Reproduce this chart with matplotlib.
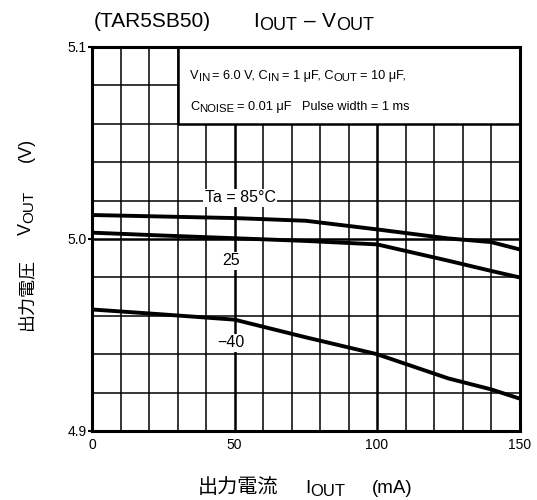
import matplotlib
matplotlib.use('Agg')
import matplotlib.pyplot as plt

plt.rcParams['font.family'] = ['Liberation Sans', 'Noto Sans CJK JP']

# 出力電流 (mA) と出力電圧 (V)
i_out = [0, 25, 50, 75, 100, 125, 140, 150]
v_85 = [5.0125, 5.0117, 5.0109, 5.0095, 5.0050, 5.0003, 4.9984, 4.9946]
v_25 = [5.0033, 5.0018, 5.0004, 4.9990, 4.9972, 4.9887, 4.9834, 4.9800]
v_m40 = [4.9633, 4.9607, 4.9580, 4.9488, 4.9400, 4.9274, 4.9217, 4.9169]

curve_labels = ['Ta = 85°C', '25', '\u221240']
label_pos = [(52, 5.0214), (48.8, 4.9887), (48.8, 4.9459)]

x_ticks = [0, 50, 100, 150]
y_ticks = [4.9, 5.0, 5.1]

W, H = 537, 500
fig = plt.figure(figsize=(W / 100, H / 100), dpi=100)
renderer = fig.canvas.get_renderer()


def rich(x, y, pieces, vertical=False):
    """Draw text pieces one after another. x, y are pixel positions of the
    baseline start. Each piece: (text, size, sub_offset_px, gap_before_px)."""
    pos = y if vertical else x
    for s, size, sub, gap in pieces:
        pos += gap
        if vertical:
            t = fig.text((x + sub) / W, pos / H, s, fontsize=size, rotation=90,
                         rotation_mode='anchor', ha='left', va='baseline')
            pos = t.get_window_extent(renderer).y1
        else:
            t = fig.text(pos / W, (y - sub) / H, s, fontsize=size,
                         ha='left', va='baseline')
            pos = t.get_window_extent(renderer).x1


ax = fig.add_axes([92 / W, 69 / H, 427.5 / W, 384 / H])
ax.set_xlim(0, 150)
ax.set_ylim(4.9, 5.1)

# grid
for gx in range(10, 150, 10):
    lw = 1.8 if gx % 50 == 0 else 1.1
    ax.axvline(gx, color='black', lw=lw, zorder=1)
for k in range(1, 10):
    gy = 4.9 + 0.02 * k
    lw = 1.8 if k == 5 else 1.1
    ax.axhline(gy, color='black', lw=lw, zorder=1)

for v in (v_85, v_25, v_m40):
    ax.plot(i_out, v, color='black', lw=2.8, zorder=3, solid_capstyle='butt')

for lab, (lx, ly) in zip(curve_labels, label_pos):
    ax.text(lx, ly, lab, ha='center', va='center', fontsize=11.5, zorder=4,
            bbox=dict(facecolor='white', edgecolor='none', pad=1.0))

# condition box
ax.fill_between([30, 150], 5.06, 5.1, facecolor='white', edgecolor='black',
                lw=1.8, zorder=5)

for s in ax.spines.values():
    s.set_linewidth(2.2)
    s.set_zorder(7)

ax.set_xticks(x_ticks)
ax.set_xticklabels([str(t) for t in x_ticks], fontsize=10)
ax.set_yticks(y_ticks)
ax.set_yticklabels(['4.9', '5.0', '5.1'], fontsize=10)
ax.tick_params(axis='x', length=0, pad=5)
ax.tick_params(axis='y', length=3, width=1.5, pad=1)

# condition text
cs, ss = 9.2, 8.2
rich(190, 500 - 79, [('V', cs, 0, 0), ('IN', ss, 2, 0), ('= 6.0 V, C', cs, 0, 2.5),
                     ('IN', ss, 2, 0), ('= 1 μF, C', cs, 0, 2.5), ('OUT', ss, 2, 0),
                     ('= 10 μF,', cs, 0, 2.5)])
rich(190, 500 - 110, [('C', cs, 0, 0), ('NOISE', ss, 2, 0), ('= 0.01 μF', cs, 0, 2.5),
                      ('Pulse width = 1 ms', cs, 0, 11)])

# title
ts, tss = 15, 13
rich(94, 500 - 27, [('(TAR5SB50)', ts, 0, 0)])
rich(253, 500 - 27, [('I', ts, 0, 0), ('OUT', tss, 2.7, 0), ('–', ts, 0, 7),
                     ('V', ts, 0, 7), ('OUT', tss, 2.7, 0)])

# axis labels
rich(198, 500 - 493, [('出力電流', 14.5, 0, 0)])
rich(305, 500 - 493, [('I', 13.5, 0, 0), ('OUT', 12, 2.5, 0)])
rich(372, 500 - 493, [('(mA)', 13.5, 0, 0)])

rich(31, 170, [('出力電圧', 13, 0, 0)], vertical=True)
rich(31, 265, [('V', 13, 0, 0), ('OUT', 11, 2.5, 0)], vertical=True)
rich(31, 338, [('(V)', 13, 0, 0)], vertical=True)

fig.savefig('out.png', dpi=100)
